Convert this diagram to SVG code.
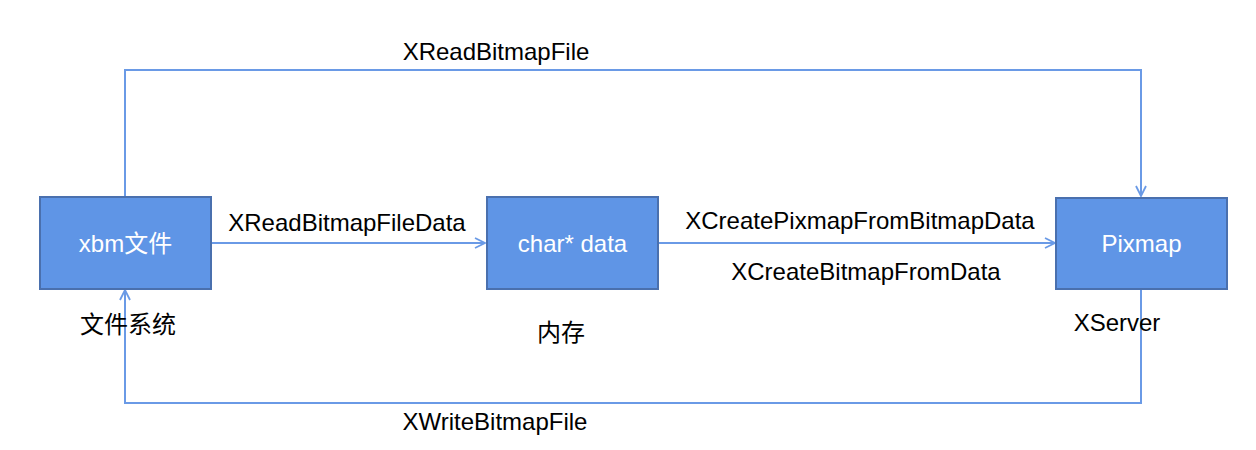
<svg xmlns="http://www.w3.org/2000/svg" width="1256" height="450" viewBox="0 0 1256 450">
<style>
.box{fill:#5F95E6;stroke:#4A70AE;stroke-width:2}
.bt{font-family:"Liberation Sans","Noto Sans CJK SC",sans-serif;font-size:24px;fill:#fff;text-anchor:middle}
.lb{font-family:"Liberation Sans","Noto Sans CJK SC",sans-serif;font-size:24px;fill:#000;text-anchor:middle}
.ln{fill:none;stroke:#6A9AE6;stroke-width:2}
</style>
<defs>
<marker id="ar" viewBox="0 0 12 12" refX="11" refY="6" markerWidth="12" markerHeight="12" markerUnits="userSpaceOnUse" orient="auto">
<path d="M1,1 L11,6 L1,11" fill="none" stroke="#6A9AE6" stroke-width="1.8"/>
</marker>
</defs>
<g id="connectors">
<path class="ln" d="M125,197 V70 H1141 V196" marker-end="url(#ar)"/>
<path class="ln" d="M1141,289 V403 H125 V290" marker-end="url(#ar)"/>
<path class="ln" d="M211,243 H485" marker-end="url(#ar)"/>
<path class="ln" d="M658,243 H1055" marker-end="url(#ar)"/>
<text class="lb" x="496" y="60">XReadBitmapFile</text>
<text class="lb" x="347" y="231">XReadBitmapFileData</text>
<text class="lb" x="860" y="229">XCreatePixmapFromBitmapData</text>
<text class="lb" x="866" y="280">XCreateBitmapFromData</text>
<text class="lb" x="495" y="430">XWriteBitmapFile</text>
</g>
<g id="xbm">
<rect class="box" x="40" y="197" width="171" height="92"/>
<text class="bt" x="125.5" y="252">xbm文件</text>
<text class="lb" x="128" y="333">文件系统</text>
</g>
<g id="chardata">
<rect class="box" x="487" y="197" width="171" height="92"/>
<text class="bt" x="572.5" y="252">char* data</text>
<text class="lb" x="561" y="341">内存</text>
</g>
<g id="pixmap">
<rect class="box" x="1056" y="198" width="171" height="91"/>
<text class="bt" x="1141.5" y="252">Pixmap</text>
<text class="lb" x="1117" y="331">XServer</text>
</g>
</svg>
